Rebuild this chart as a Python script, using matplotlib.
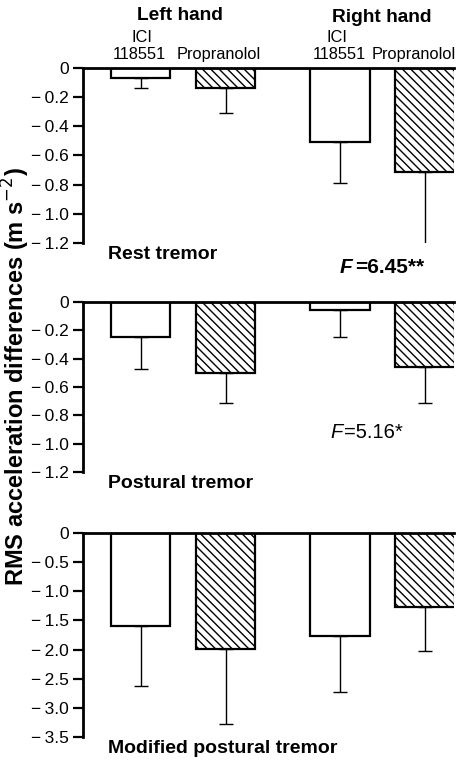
import matplotlib.pyplot as plt

plt.rcParams['font.family'] = ['Liberation Sans', 'DejaVu Sans']
plt.rcParams['hatch.linewidth'] = 1.0

# bar order: left ICI, left propranolol, right ICI, right propranolol
positions = [1, 2, 3.35, 4.35]
hatches = ['', '\\\\\\\\', '', '\\\\\\\\']

rest_mean = [-0.07, -0.14, -0.51, -0.71]
rest_err = [0.07, 0.17, 0.28, 0.53]
post_mean = [-0.25, -0.50, -0.06, -0.46]
post_err = [0.22, 0.21, 0.19, 0.25]
mod_mean = [-1.60, -1.99, -1.76, -1.27]
mod_err = [1.02, 1.28, 0.97, 0.75]

rest_ticks = [0, -0.2, -0.4, -0.6, -0.8, -1.0, -1.2]
mod_ticks = [0, -0.5, -1.0, -1.5, -2.0, -2.5, -3.0, -3.5]

fig = plt.figure(figsize=(4.66, 7.63), dpi=100)

panels = [
    (rest_mean, rest_err, rest_ticks, 'Rest tremor', [0.178, 0.6815, 0.796, 0.2295]),
    (post_mean, post_err, rest_ticks, 'Postural tremor', [0.178, 0.3814, 0.796, 0.2228]),
    (mod_mean, mod_err, mod_ticks, 'Modified postural tremor', [0.178, 0.0341, 0.796, 0.2673]),
]

for mean, err, ticks, name, rect in panels:
    ax = fig.add_axes(rect)
    for x, m, e, h in zip(positions, mean, err, hatches):
        ax.bar(x, m, width=0.7, color='white', edgecolor='black', linewidth=1.6, hatch=h)
        ax.errorbar(x, m, yerr=[[e], [0]], fmt='none', ecolor='black', elinewidth=1, capsize=5, capthick=1)
    ax.set_xlim(0.32, 4.69)
    ax.set_ylim(ticks[-1], 0)
    ax.set_yticks(ticks)
    ax.set_yticklabels(['0' if t == 0 else '\u2212\u2009' + format(-t, '.1f') for t in ticks], fontsize=12.5)
    ax.set_xticks([])
    ax.spines['right'].set_visible(False)
    ax.spines['bottom'].set_visible(False)
    ax.spines['left'].set_linewidth(2)
    ax.spines['top'].set_linewidth(2)
    ax.tick_params(axis='y', length=7, width=1.6, pad=3)
    ax.text(0.068, -0.015, name, transform=ax.transAxes, fontsize=14, fontweight='bold', va='top')

fig.text(0.386, 0.980, 'Left hand', ha='center', va='center', fontsize=13.8, fontweight='bold')
fig.text(0.819, 0.977, 'Right hand', ha='center', va='center', fontsize=13.8, fontweight='bold')
fig.text(0.305, 0.9515, 'ICI', ha='center', va='center', fontsize=11.8)
fig.text(0.298, 0.928, '118551', ha='center', va='center', fontsize=11.8)
fig.text(0.723, 0.9515, 'ICI', ha='center', va='center', fontsize=11.8)
fig.text(0.729, 0.928, '118551', ha='center', va='center', fontsize=11.8)
fig.text(0.470, 0.928, 'Propranolol', ha='center', va='center', fontsize=11.8)
fig.text(0.798, 0.928, 'Propranolol', ha='left', va='center', fontsize=11.8)

fig.text(340 / 466, 0.650, 'F', ha='left', va='center', fontsize=15, fontweight='bold', style='italic')
fig.text(355 / 466, 0.650, '=6.45**', ha='left', va='center', fontsize=15, fontweight='bold')
fig.text(330 / 466, 0.433, 'F', ha='left', va='center', fontsize=14.5, style='italic')
fig.text(344 / 466, 0.433, '=5.16*', ha='left', va='center', fontsize=14.5)

fig.text(0.034, 0.507, 'RMS acceleration differences (m s$^{-2}$)', rotation=90,
         ha='center', va='center', fontsize=17, fontweight='bold')

plt.savefig('out.png', dpi=100)
